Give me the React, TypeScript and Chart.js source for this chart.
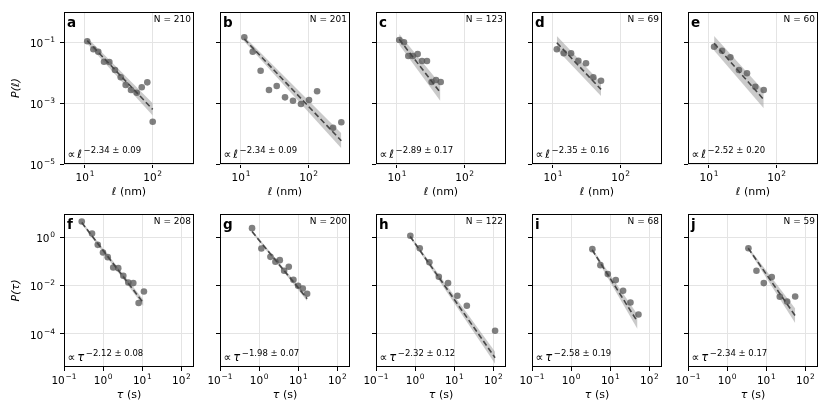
import { useEffect, useRef } from "react"
import { Chart, registerables } from "chart.js"

Chart.register(...registerables)

// step lengths ℓ (nm) and P(ℓ), panels a–e
const aX = [10.8, 13.3, 15.7, 19.1, 22.9, 27.7, 33.7, 39.9, 47.8, 58.1, 68.9, 83.2, 100]
const aY = [0.109, 0.0593, 0.0494, 0.0232, 0.0226, 0.0124, 0.00711, 0.00397, 0.00272, 0.00221, 0.00333, 0.00486, 0.000246]
const bX = [11.2, 14.9, 19.5, 25.9, 33.7, 44.7, 58.6, 76.9, 101, 133, 229, 303]
const bY = [0.147, 0.0494, 0.0117, 0.00272, 0.00368, 0.00156, 0.00121, 0.000942, 0.00127, 0.00246, 0.000156, 0.000236]
const cX = [10.8, 12.7, 14.7, 17.1, 20.2, 23.4, 27.7, 32.5, 37.7, 44.2]
const cY = [0.12, 0.101, 0.0357, 0.0357, 0.0415, 0.0244, 0.0244, 0.00498, 0.00579, 0.00498]
const dX = [11.4, 14.4, 18.5, 23.7, 30.7, 39.4, 51.2]
const dY = [0.0593, 0.0438, 0.0438, 0.025, 0.0205, 0.00711, 0.0055]
const eX = [11.9, 15.6, 20.7, 27.7, 36.4, 48.3, 64.3]
const eY = [0.0723, 0.0533, 0.0324, 0.0124, 0.00964, 0.00349, 0.00272]

// dwell times τ (s) and P(τ), panels f–j
const fX = [0.284, 0.52, 0.728, 0.989, 1.31, 1.81, 2.43, 3.27, 4.39, 5.89, 8.05, 11.0]
const fY = [4.61, 1.47, 0.498, 0.239, 0.153, 0.0569, 0.0536, 0.0258, 0.0136, 0.0128, 0.0019, 0.00574]
const gX = [0.658, 1.14, 1.94, 2.6, 3.37, 4.34, 5.71, 7.5, 9.89, 13.0, 16.8]
const gY = [2.45, 0.35, 0.158, 0.0982, 0.115, 0.0415, 0.0608, 0.0176, 0.00991, 0.00766, 0.00461]
const hX = [0.753, 1.31, 2.31, 4.02, 6.93, 12.0, 20.9, 110]
const hY = [1.18, 0.361, 0.0948, 0.0234, 0.0128, 0.00381, 0.00147, 0.000135]
const iX = [3.48, 5.58, 8.63, 13.8, 21.2, 32.7, 52.4]
const iY = [0.33, 0.0713, 0.0303, 0.0171, 0.00614, 0.00201, 0.000638]
const jX = [3.49, 5.6, 8.63, 13.8, 22.1, 34.0, 54.6]
const jY = [0.361, 0.0415, 0.0128, 0.0228, 0.00346, 0.00221, 0.00356]

const panelLetters = ["a", "b", "c", "d", "e", "f", "g", "h", "i", "j"]
const panelCounts = [210, 201, 123, 69, 60, 208, 200, 122, 68, 59]
const fitExponents = [-2.34, -2.34, -2.89, -2.35, -2.52, -2.12, -1.98, -2.32, -2.58, -2.34]
const fitErrors = [0.09, 0.09, 0.17, 0.16, 0.2, 0.08, 0.07, 0.12, 0.19, 0.17]

// power-law fit line end points and grey band half-width (decades) at each end
const fitStartX = [10.8, 11.2, 10.8, 11.4, 11.9, 0.284, 0.658, 0.748, 3.44, 3.45]
const fitEndX = [100, 303, 43.7, 51.2, 64.3, 10.7, 16.8, 110, 49.4, 54.6]
const fitStartY = [0.114, 0.129, 0.126, 0.0977, 0.0933, 4.17, 1.77, 1.1, 0.309, 0.361]
const fitEndY = [0.000625, 0.0000581, 0.00224, 0.00284, 0.00132, 0.00191, 0.0029, 0.0000102, 0.000319, 0.000565]
const bandStart = [0.1, 0.08, 0.18, 0.22, 0.24, 0.06, 0.05, 0.05, 0.05, 0.05]
const bandEnd = [0.2, 0.25, 0.28, 0.22, 0.29, 0.12, 0.1, 0.25, 0.3, 0.3]

const lenXTicks = [10, 100]
const lenYTicks = [1e-5, 1e-3, 1e-1]
const timeXTicks = [0.1, 1, 10, 100]
const timeYTicks = [1e-4, 1e-2, 1]
const lenXRange = [4.9, 407]
const lenYRange = [1e-5, 1]
const timeXRange = [0.1, 209]
const timeYRange = [4.2e-6, 9.5]

const pointsX = [aX, bX, cX, dX, eX, fX, gX, hX, iX, jX]
const pointsY = [aY, bY, cY, dY, eY, fY, gY, hY, iY, jY]

const FONT = '"DejaVu Sans"'
const PLOT_W = 130
const COL_LEFT = [64, 220, 376, 532, 688]
const ROW_TOP = [12, 214]
const ROW_H = [152, 153]
const PAD_T = [12, 10]
const PAD_B = [40, 48]
const PAD_R = 12

const expText = (v: number) => {
  const e = Math.round(Math.log10(v))
  return (e < 0 ? "\u2212" : "") + Math.abs(e)
}

function drawPower(ctx: CanvasRenderingContext2D, v: number, x: number, y: number, align: "center" | "right") {
  ctx.font = `10.5px ${FONT}`
  const wb = ctx.measureText("10").width
  ctx.font = `7.5px ${FONT}`
  const s = expText(v)
  const ws = ctx.measureText(s).width
  const total = wb + 0.7 + ws
  const x0 = align === "center" ? x - total / 2 : x - total
  ctx.textAlign = "left"
  ctx.font = `10.5px ${FONT}`
  ctx.fillText("10", x0, y)
  ctx.font = `7.5px ${FONT}`
  ctx.fillText(s, x0 + wb + 0.7, y - 5)
}

// frame, tick labels, titles and in-panel annotations
const decor = {
  id: "decor",
  afterDraw(chart: any) {
    const o = chart.options.plugins.decor
    const { ctx, chartArea } = chart
    const { left, top, right, bottom } = chartArea
    const xs = chart.scales.x
    const ys = chart.scales.y
    ctx.save()
    ctx.strokeStyle = "#000"
    ctx.lineWidth = 1
    ctx.strokeRect(left + 0.5, top + 0.5, right - left - 1, bottom - top - 1)
    ctx.fillStyle = "#000"
    ctx.textBaseline = "alphabetic"

    o.xTicks.forEach((v: number) => drawPower(ctx, v, xs.getPixelForValue(v), bottom + 16.5, "center"))
    if (o.showY) {
      o.yTicks.forEach((v: number) => drawPower(ctx, v, left - 9, ys.getPixelForValue(v) + 4.8, "right"))
    }

    // x axis title
    ctx.font = `italic 11px ${FONT}`
    const w1 = ctx.measureText(o.symbol).width
    ctx.font = `11px ${FONT}`
    const w2 = ctx.measureText(o.unit).width
    const tx = (left + right) / 2 - (w1 + w2) / 2
    ctx.textAlign = "left"
    ctx.font = `italic 11px ${FONT}`
    ctx.fillText(o.symbol, tx, bottom + 31)
    ctx.font = `11px ${FONT}`
    ctx.fillText(o.unit, tx + w1, bottom + 31)

    // y axis title
    if (o.showY) {
      ctx.save()
      ctx.translate(left - 48, (top + bottom) / 2)
      ctx.rotate(-Math.PI / 2)
      ctx.textAlign = "center"
      ctx.textBaseline = "middle"
      ctx.font = `italic 11px ${FONT}`
      ctx.fillText(`P(${o.symbol})`, 0, 0)
      ctx.restore()
    }

    // panel letter and count
    ctx.textAlign = "left"
    ctx.font = `bold 13.5px ${FONT}`
    ctx.fillText(o.letter, left + 3, top + 14.5)
    ctx.textAlign = "right"
    ctx.font = `9px ${FONT}`
    ctx.fillText(`N = ${o.count}`, right - 3, top + 10)

    // power-law exponent
    ctx.textAlign = "left"
    let ax = left + 3.5
    ctx.font = `11px ${FONT}`
    ctx.fillText("\u221d", ax, bottom - 6.5)
    ax += ctx.measureText("\u221d").width + 2
    ctx.font = `italic 11.5px ${FONT}`
    ctx.fillText(o.symbol, ax, bottom - 6.5)
    ax += ctx.measureText(o.symbol).width + 1.5
    ctx.font = `8.5px ${FONT}`
    const ex = `\u2212${Math.abs(o.exponent).toFixed(2)} \u00b1 ${o.error.toFixed(2)}`
    ctx.fillText(ex, ax, bottom - 11.5)
    ctx.restore()
  },
}

function Panel({ index }: { index: number }) {
  const canvasRef = useRef<HTMLCanvasElement>(null)
  const row = index < 5 ? 0 : 1
  const col = index % 5
  const padL = col === 0 ? 64 : 36
  const w = padL + PLOT_W + PAD_R
  const h = PAD_T[row] + ROW_H[row] + PAD_B[row]

  useEffect(() => {
    if (!canvasRef.current) return
    const xTicks = row === 0 ? lenXTicks : timeXTicks
    const yTicks = row === 0 ? lenYTicks : timeYTicks
    const xRange = row === 0 ? lenXRange : timeXRange
    const yRange = row === 0 ? lenYRange : timeYRange
    const x0 = fitStartX[index]
    const x1 = fitEndX[index]
    const y0 = fitStartY[index]
    const y1 = fitEndY[index]
    const k0 = Math.pow(10, bandStart[index])
    const k1 = Math.pow(10, bandEnd[index])
    const pts = pointsX[index].map((x, i) => ({ x, y: pointsY[index][i] }))

    const grid = {
      color: "#e4e4e4",
      tickColor: "#000",
      tickLength: 4,
      lineWidth: 1,
    }

    const chart = new Chart(canvasRef.current, {
      type: "line",
      data: {
        datasets: [
          {
            data: [{ x: x0, y: y0 * k0 }, { x: x1, y: y1 * k1 }],
            fill: "+1",
            backgroundColor: "rgba(150,150,150,0.5)",
            borderColor: "rgba(0,0,0,0)",
            pointRadius: 0,
            order: 3,
          },
          {
            data: [{ x: x0, y: y0 / k0 }, { x: x1, y: y1 / k1 }],
            fill: false,
            borderColor: "rgba(0,0,0,0)",
            pointRadius: 0,
            order: 4,
          },
          {
            data: [{ x: x0, y: y0 }, { x: x1, y: y1 }],
            fill: false,
            borderColor: "#474747",
            borderDash: [5.5, 3],
            borderWidth: 1.6,
            pointRadius: 0,
            order: 1,
          },
          {
            data: pts,
            showLine: false,
            pointRadius: 3.3,
            pointBackgroundColor: "rgba(85,85,85,0.75)",
            pointBorderWidth: 0,
            order: 2,
          },
        ],
      } as any,
      options: {
        responsive: false,
        animation: false,
        events: [],
        layout: { padding: { left: 0, top: PAD_T[row], right: PAD_R, bottom: 0 } },
        scales: {
          x: {
            type: "logarithmic",
            min: xRange[0],
            max: xRange[1],
            afterBuildTicks: (s: any) => {
              s.ticks = xTicks.map((v) => ({ value: v }))
            },
            afterFit: (s: any) => {
              s.height = PAD_B[row]
            },
            ticks: { display: false },
            grid,
            border: { display: false },
          },
          y: {
            type: "logarithmic",
            min: yRange[0],
            max: yRange[1],
            afterBuildTicks: (s: any) => {
              s.ticks = yTicks.map((v) => ({ value: v }))
            },
            afterFit: (s: any) => {
              s.width = padL
            },
            ticks: { display: false },
            grid,
            border: { display: false },
          },
        },
        plugins: {
          legend: { display: false },
          tooltip: { enabled: false },
          decor: {
            xTicks,
            yTicks,
            showY: col === 0,
            symbol: row === 0 ? "\u2113" : "\u03c4",
            unit: row === 0 ? " (nm)" : " (s)",
            letter: panelLetters[index],
            count: panelCounts[index],
            exponent: fitExponents[index],
            error: fitErrors[index],
          },
        } as any,
      },
      plugins: [decor],
    })

    return () => {
      chart.destroy()
    }
  }, [index])

  return (
    <canvas
      ref={canvasRef}
      width={w}
      height={h}
      style={{
        position: "absolute",
        left: COL_LEFT[col] - padL,
        top: ROW_TOP[row] - PAD_T[row],
        width: w,
        height: h,
      }}
    />
  )
}

export default function App() {
  return (
    <div
      style={{
        position: "fixed",
        left: 0,
        top: 0,
        width: 830,
        height: 415,
        background: "#fff",
        overflow: "hidden",
      }}
    >
      {panelLetters.map((_, i) => (
        <Panel key={i} index={i} />
      ))}
    </div>
  )
}
